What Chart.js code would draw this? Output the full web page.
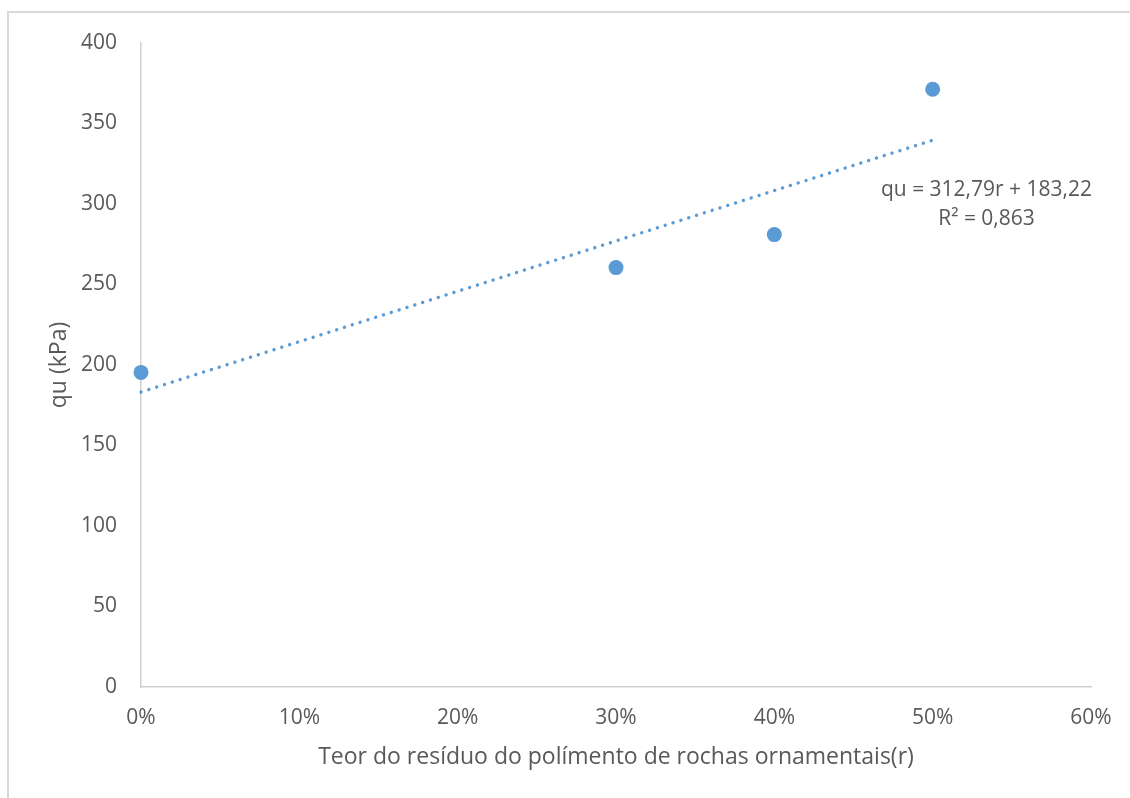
<!DOCTYPE html>
<html>
<head>
<meta charset="utf-8">
<script src="https://cdn.jsdelivr.net/npm/chart.js@4/dist/chart.umd.min.js"></script>
<style>
  html, body { margin: 0; padding: 0; background: #ffffff; }
  #wrap { position: relative; width: 1130px; height: 798px; overflow: hidden; }
  #frame { position: absolute; left: 7px; top: 11px; width: 1200px; height: 900px;
           border-left: 2px solid #d9d9d9; border-top: 2px solid #d9d9d9; }
  canvas { position: absolute; left: 0; top: 0; }
</style>
</head>
<body>
<div id="wrap">
  <div id="frame"></div>
  <canvas id="chart" width="1130" height="798"></canvas>
</div>
<script>
// Residue content (fraction) and measured unconfined compressive strength qu (kPa)
const residueContent = [0, 0.30, 0.40, 0.50];
const quValues = [195.4, 260.5, 281, 371.3];

// Linear trendline coefficients: qu = slope * r + intercept
const trendSlope = 312.79;
const trendIntercept = 183.22;
const trendRange = [0, 0.50];
const trendLabel = ['qu = 312,79r + 183,22', 'R² = 0,863'];

// Axis settings
const xTickValues = [0, 0.1, 0.2, 0.3, 0.4, 0.5, 0.6];
const yMin = 0, yMax = 400, yStep = 50;

const FONT = '"Open Sans", "Noto Sans", sans-serif';
const TEXT = '#595959';
const BLUE = '#5b9bd5';
const TICK_SIZE = 21;
const TITLE_SIZE = 23;

const scatterData = residueContent.map((r, i) => ({ x: r, y: quValues[i] }));
const trendData = trendRange.map(r => ({ x: r, y: trendSlope * r + trendIntercept }));

const equationPlugin = {
  id: 'equationLabel',
  afterDatasetsDraw(chart) {
    const { ctx, scales: { x, y } } = chart;
    ctx.save();
    ctx.font = TICK_SIZE + 'px ' + FONT;
    ctx.fillStyle = TEXT;
    ctx.textAlign = 'center';
    ctx.textBaseline = 'middle';
    const cx = x.getPixelForValue(0.534);
    ctx.fillText(trendLabel[0], cx, y.getPixelForValue(308.7));
    ctx.fillText(trendLabel[1], cx, y.getPixelForValue(290.7));
    ctx.restore();
  }
};

new Chart(document.getElementById('chart'), {
  type: 'scatter',
  data: {
    datasets: [
      {
        type: 'line',
        label: 'Linear (qu)',
        data: trendData,
        borderColor: BLUE,
        borderWidth: 3.4,
        borderDash: [0.01, 8.2],
        borderCapStyle: 'round',
        pointRadius: 0,
        fill: false,
        tension: 0,
        clip: false,
        order: 2
      },
      {
        label: 'qu',
        data: scatterData,
        backgroundColor: BLUE,
        borderColor: BLUE,
        borderWidth: 0,
        pointRadius: 7.5,
        pointHoverRadius: 7.5,
        clip: false,
        order: 1
      }
    ]
  },
  options: {
    responsive: false,
    animation: false,
    devicePixelRatio: 1,
    layout: { padding: { top: 43, right: 39, bottom: 0, left: 0 } },
    plugins: {
      legend: { display: false },
      tooltip: { enabled: false }
    },
    scales: {
      x: {
        type: 'linear',
        min: 0,
        max: 0.6,
        afterFit(scale) { scale.height = 111; },
        afterBuildTicks(scale) { scale.ticks = xTickValues.map(v => ({ value: v })); },
        grid: { display: false, drawTicks: false },
        border: { display: true, color: '#cfcfcf', width: 1.5 },
        ticks: {
          padding: 18,
          color: TEXT,
          font: { family: FONT, size: TICK_SIZE },
          callback: v => Math.round(v * 100) + '%'
        },
        title: {
          display: true,
          text: 'Teor do resíduo do polímento de rochas ornamentais(r)',
          color: TEXT,
          font: { family: FONT, size: TITLE_SIZE },
          padding: { top: 0, bottom: 27 }
        }
      },
      y: {
        type: 'linear',
        min: yMin,
        max: yMax,
        afterFit(scale) { scale.width = 141; },
        grid: { display: false, drawTicks: false },
        border: { display: true, color: '#cfcfcf', width: 1.5 },
        ticks: {
          stepSize: yStep,
          padding: 24,
          color: TEXT,
          font: { family: FONT, size: TICK_SIZE }
        },
        title: {
          display: true,
          text: 'qu (kPa)',
          color: TEXT,
          font: { family: FONT, size: TITLE_SIZE },
          padding: { top: 46, bottom: 0 }
        }
      }
    }
  },
  plugins: [equationPlugin]
});
</script>
</body>
</html>
